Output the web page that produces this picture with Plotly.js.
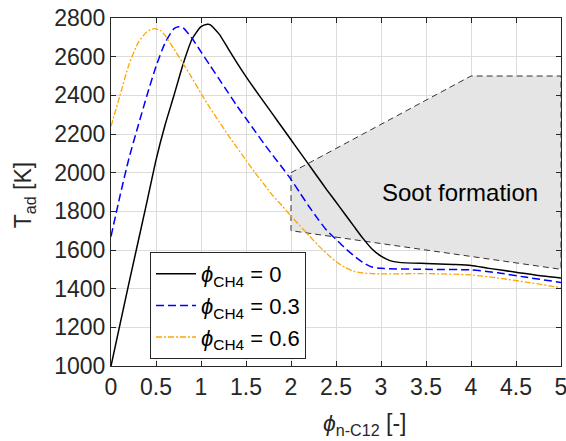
<!DOCTYPE html>
<html>
<head>
<meta charset="utf-8">
<script src="https://cdn.plot.ly/plotly-3.0.1.min.js"></script>
<style>html,body{margin:0;padding:0;background:#fff}#chart{width:566px;height:441px}</style>
</head>
<body>
<div id="chart"></div>
<script>
// phi_CH4 = 0
const x0 = [0, 0.1, 0.2, 0.3, 0.4, 0.5, 0.6, 0.7, 0.8, 0.9, 1.0, 1.07, 1.1, 1.2, 1.3, 1.4, 1.5, 1.6, 1.7, 1.8, 1.9, 2.0, 2.1, 2.2, 2.3, 2.4, 2.5, 2.6, 2.7, 2.8, 2.9, 3.0, 3.1, 3.2, 3.5, 3.8, 4.0, 4.2, 4.5, 4.8, 5.0];
const y0 = [1000, 1215, 1430, 1640, 1850, 2065, 2245, 2400, 2560, 2690, 2755, 2768, 2766, 2718, 2643, 2568, 2497, 2430, 2365, 2300, 2235, 2170, 2105, 2040, 1975, 1910, 1848, 1785, 1722, 1660, 1605, 1568, 1545, 1536, 1530, 1525, 1520, 1505, 1485, 1465, 1455];
// phi_CH4 = 0.3
const x3 = [0, 0.1, 0.2, 0.3, 0.4, 0.5, 0.6, 0.7, 0.75, 0.8, 0.9, 1.0, 1.1, 1.2, 1.3, 1.4, 1.5, 1.6, 1.7, 1.8, 1.9, 2.0, 2.1, 2.2, 2.3, 2.4, 2.5, 2.6, 2.7, 2.8, 2.9, 3.0, 3.5, 4.0, 4.3, 4.6, 5.0];
const y3 = [1670, 1880, 2075, 2240, 2400, 2550, 2670, 2745, 2755, 2750, 2695, 2625, 2555, 2485, 2415, 2345, 2280, 2215, 2150, 2088, 2028, 1965, 1895, 1825, 1760, 1700, 1655, 1610, 1570, 1535, 1512, 1505, 1500, 1497, 1482, 1460, 1432];
// phi_CH4 = 0.6
const x6 = [0, 0.1, 0.2, 0.3, 0.4, 0.48, 0.55, 0.6, 0.7, 0.8, 0.9, 1.0, 1.1, 1.2, 1.3, 1.4, 1.5, 1.6, 1.7, 1.8, 1.9, 2.0, 2.1, 2.2, 2.3, 2.4, 2.5, 2.6, 2.7, 2.8, 2.9, 3.0, 3.5, 4.0, 4.3, 4.6, 5.0];
const y6 = [2240, 2400, 2560, 2670, 2730, 2745, 2735, 2710, 2640, 2565, 2490, 2410, 2335, 2265, 2195, 2130, 2065, 2000, 1940, 1880, 1830, 1775, 1725, 1675, 1625, 1580, 1540, 1510, 1490, 1481, 1478, 1476, 1478, 1471, 1455, 1435, 1405];
// soot formation region
const sootX = [2, 4, 5, 5, 2, 2];
const sootY = [2000, 2500, 2500, 1500, 1700, 2000];
const seriesNames = ['<i>ϕ</i><sub>CH4</sub> = 0', '<i>ϕ</i><sub>CH4</sub> = 0.3', '<i>ϕ</i><sub>CH4</sub> = 0.6'];
const sootLabel = 'Soot formation';
const xTitle = '<i>ϕ</i><sub>n-C12</sub> [-]';
const yTitle = 'T<sub>ad</sub> [K]';
const xTicks = [0, 0.5, 1, 1.5, 2, 2.5, 3, 3.5, 4, 4.5, 5];
const yTicks = [1000, 1200, 1400, 1600, 1800, 2000, 2200, 2400, 2600, 2800];

const FONT = 'Liberation Sans, Arial, Helvetica, sans-serif';
const traces = [
  {x: sootX, y: sootY, mode: 'lines', fill: 'toself', fillcolor: '#e5e5e5',
   line: {color: '#333333', width: 1, dash: '6px,4px'}, showlegend: false, hoverinfo: 'skip'},
  {x: x0, y: y0, name: seriesNames[0], mode: 'lines', line: {color: '#000000', width: 1.5, shape: 'spline', smoothing: 0.6}},
  {x: x3, y: y3, name: seriesNames[1], mode: 'lines', line: {color: '#0000ff', width: 1.5, dash: '8px,4px', shape: 'spline', smoothing: 0.6}},
  {x: x6, y: y6, name: seriesNames[2], mode: 'lines', line: {color: '#ffa500', width: 1.3, dash: '6px,2px,2px,2px', shape: 'spline', smoothing: 0.6}}
];
const axisCommon = {
  showline: true, linecolor: '#262626', linewidth: 1, mirror: 'ticks',
  ticks: 'inside', ticklen: 5, tickcolor: '#262626', tickwidth: 1,
  showgrid: true, gridcolor: '#dcdcdc', gridwidth: 1, zeroline: false,
  ticklabeloverflow: 'allow',
  tickfont: {family: FONT, size: 23, color: '#262626'}
};
const layout = {
  width: 566, height: 441,
  margin: {l: 111, r: 5, t: 18, b: 75},
  paper_bgcolor: '#ffffff', plot_bgcolor: '#ffffff',
  font: {family: FONT, color: '#262626'},
  xaxis: Object.assign({}, axisCommon, {
    range: [0, 5], tickvals: xTicks, ticktext: xTicks.map(String)
  }),
  yaxis: Object.assign({}, axisCommon, {
    range: [1000, 2800], tickvals: yTicks, ticktext: yTicks.map(String)
  }),
  legend: {
    x: 0.0867, y: 0.3276, xanchor: 'left', yanchor: 'top',
    bgcolor: '#ffffff', bordercolor: '#262626', borderwidth: 1,
    itemwidth: 40,
    font: {family: FONT, size: 22, color: '#000000'}, tracegroupgap: 0
  },
  annotations: [
    {x: 3.88, y: 1895, xref: 'x', yref: 'y', text: sootLabel, showarrow: false,
     font: {family: FONT, size: 24, color: '#000000'}},
    {x: 0.564, y: -0.167, xref: 'paper', yref: 'paper', text: xTitle, showarrow: false,
     xanchor: 'center', yanchor: 'middle', font: {family: FONT, size: 23, color: '#262626'}},
    {x: -0.193, y: 0.491, xref: 'paper', yref: 'paper', text: yTitle, showarrow: false,
     textangle: -90, xanchor: 'center', yanchor: 'middle', font: {family: FONT, size: 23, color: '#262626'}}
  ]
};
Plotly.newPlot('chart', traces, layout, {staticPlot: true, displayModeBar: false});
</script>
</body>
</html>
